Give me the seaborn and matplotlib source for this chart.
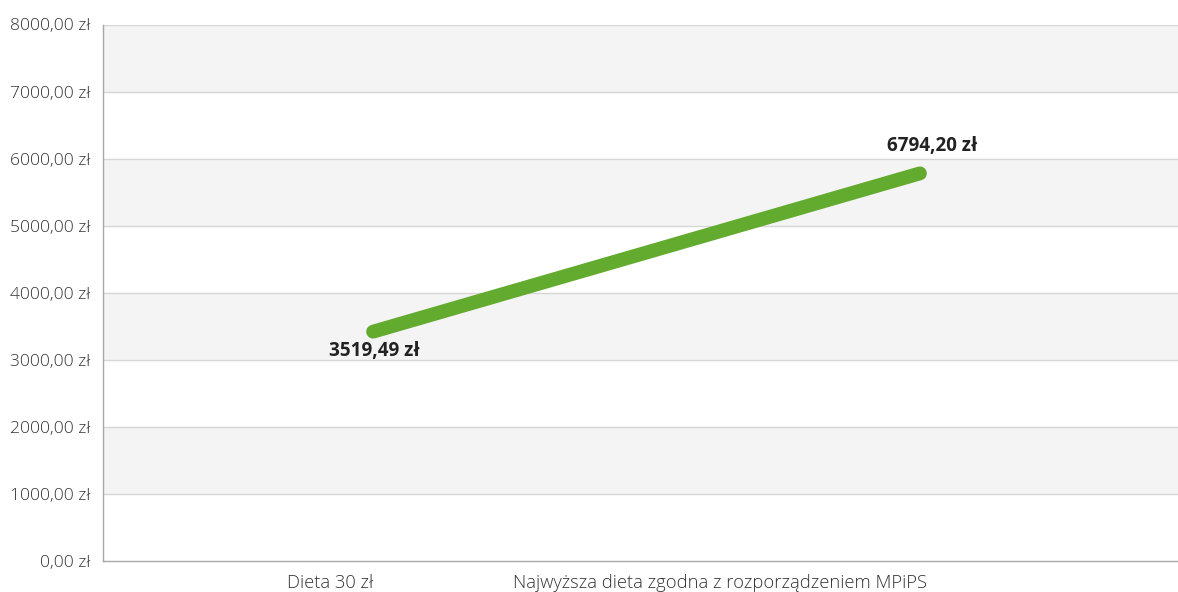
import matplotlib
matplotlib.use('Agg')
import matplotlib.pyplot as plt
import matplotlib.transforms as mtransforms
import pandas as pd
import seaborn as sns

# Dane
categories = ['Dieta 30 zł', 'Najwyższa dieta zgodna z rozporządzeniem MPiPS']
values = [3420, 5780]  # pozycja linii
value_labels = ['3519,49 zł', '6794,20 zł']
y_ticks = [0, 1000, 2000, 3000, 4000, 5000, 6000, 7000, 8000]

df = pd.DataFrame({'x': range(len(categories)), 'kwota': values})

sns.set_style('white')
plt.rcParams['font.family'] = ['Open Sans', 'DejaVu Sans']

fig = plt.figure(figsize=(11.78, 5.92), dpi=100)
ax = fig.add_axes([103 / 1178, 31 / 592, 1 - 103 / 1178, 536.5 / 592])

# pasy tła
for i in range(len(y_ticks) - 1):
    if i % 2 == 1:
        ax.axhspan(y_ticks[i], y_ticks[i + 1], color='#f4f4f4', zorder=0, lw=0)
for t in y_ticks[1:]:
    ax.axhline(t, color='#d6d6d6', lw=1, zorder=1)

sns.lineplot(data=df, x='x', y='kwota', color='#62ab2f', lw=10,
             solid_capstyle='round', ax=ax, zorder=3)

# etykiety wartości
offsets = [(1, -14), (9, 19.5)]
for i, (v, lab) in enumerate(zip(values, value_labels)):
    ax.annotate(lab, (i, v), xytext=offsets[i], textcoords='offset points',
                ha='center', va='center', fontsize=13.6, fontweight='bold',
                color='#222222')

ax.set_xlim(-0.494, 1.472)
ax.set_ylim(0, 8000)
ax.set_yticks(y_ticks)
ax.set_yticklabels([f'{t},00 zł' for t in y_ticks])
ax.set_xticks(range(len(categories)))
ax.set_xticklabels(categories, ha='right')
ax.tick_params(axis='both', length=0, labelcolor='#333333')
ax.tick_params(axis='y', pad=9, labelsize=12.6)
ax.tick_params(axis='x', pad=9, labelsize=13.2)
for lab in ax.get_xticklabels() + ax.get_yticklabels():
    lab.set_fontweight('light')
xl = ax.get_xticklabels()
xl[1].set_transform(xl[1].get_transform() + mtransforms.ScaledTranslation(0.07, 0, fig.dpi_scale_trans))
ax.set_xlabel('')
ax.set_ylabel('')

for s in ['top', 'right']:
    ax.spines[s].set_visible(False)
ax.spines['left'].set_color('#a8a8a8')
ax.spines['bottom'].set_color('#a8a8a8')
ax.spines['left'].set_linewidth(1)
ax.spines['bottom'].set_linewidth(1)

fig.savefig('out.png', dpi=100)
